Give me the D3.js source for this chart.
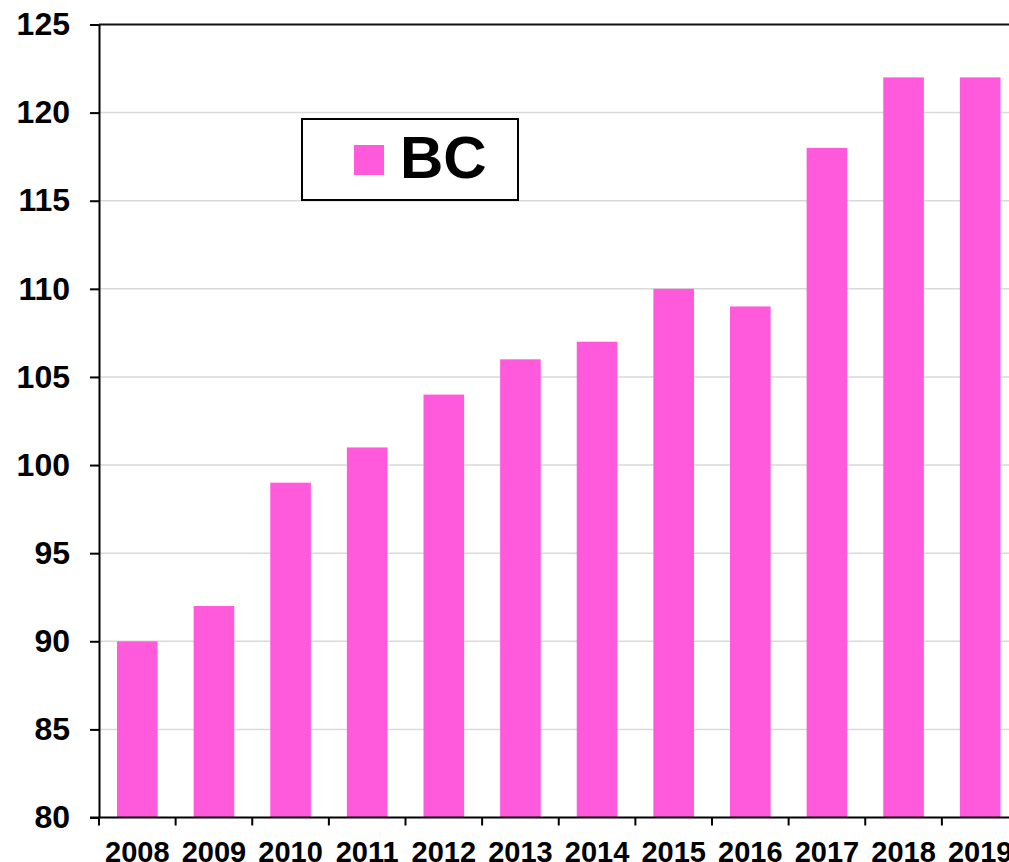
<!DOCTYPE html>
<html>
<head>
<meta charset="utf-8">
<script src="https://cdn.jsdelivr.net/npm/d3@7"></script>
<style>
  body { margin: 0; background: #fff; }
  svg { display: block; font-family: "Liberation Sans", Arial, sans-serif; font-weight: bold; }
</style>
</head>
<body>
<svg></svg>
<script>
var years = ["2008", "2009", "2010", "2011", "2012", "2013", "2014", "2015", "2016", "2017", "2018", "2019"];
var bcValues = [90, 92, 99, 101, 104, 106, 107, 110, 109, 118, 122, 122];
var yTicks = [80, 85, 90, 95, 100, 105, 110, 115, 120, 125];
var seriesName = "BC";

var width = 1009;
var height = 862;
var plotLeft = 99, plotRight = 1018.5, plotTop = 24.5, plotBottom = 817.5;
var barColor = "#ff5adb";

var svg = d3.select("svg")
            .attr("width", width)
            .attr("height", height);

var x = d3.scaleBand()
          .domain(years)
          .range([plotLeft, plotRight])
          .paddingInner(0.47)
          .paddingOuter(0.235);

var y = d3.scaleLinear()
          .domain([80, 125])
          .range([plotBottom, plotTop]);

// gridlines
svg.append("g")
    .selectAll("line")
    .data(yTicks.slice(1, -1))
    .enter()
    .append("line")
        .attr("x1", plotLeft)
        .attr("x2", plotRight)
        .attr("y1", d => y(d))
        .attr("y2", d => y(d))
        .attr("stroke", "#d9d9d9")
        .attr("stroke-width", 1.5);

// bars
svg.append("g")
    .selectAll("rect")
    .data(bcValues)
    .enter()
    .append("rect")
        .attr("x", (d, i) => x(years[i]))
        .attr("width", x.bandwidth())
        .attr("y", d => y(d))
        .attr("height", d => y(80) - y(d))
        .attr("fill", barColor);

// top border of plot area
svg.append("line")
    .attr("x1", plotLeft)
    .attr("x2", plotRight)
    .attr("y1", plotTop)
    .attr("y2", plotTop)
    .attr("stroke", "#111")
    .attr("stroke-width", 2);

// y axis
var yAxis = svg.append("g")
    .attr("transform", "translate(" + plotLeft + ",0)")
    .call(d3.axisLeft(y).tickValues(yTicks).tickSize(9).tickPadding(20).tickSizeOuter(0));
yAxis.select(".domain").attr("stroke", "#000").attr("stroke-width", 2);
yAxis.selectAll(".tick line").attr("stroke", "#000").attr("stroke-width", 2);
yAxis.selectAll("text")
    .attr("fill", "#000")
    .style("font-size", "32px")
    .style("font-weight", "bold")
    .style("font-family", "'Liberation Sans', Arial, sans-serif");

// x axis
var xTickScale = d3.scaleLinear().domain([0, years.length]).range([plotLeft, plotRight]);
var xAxis = svg.append("g")
    .attr("transform", "translate(0," + plotBottom + ")");
xAxis.append("line")
    .attr("x1", plotLeft - 9)
    .attr("x2", plotRight)
    .attr("stroke", "#000")
    .attr("stroke-width", 2);
xAxis.selectAll(".xtick")
    .data(d3.range(years.length + 1))
    .enter()
    .append("line")
        .attr("x1", d => xTickScale(d))
        .attr("x2", d => xTickScale(d))
        .attr("y1", 0)
        .attr("y2", 8)
        .attr("stroke", "#000")
        .attr("stroke-width", 2);
xAxis.selectAll(".xlabel")
    .data(years)
    .enter()
    .append("text")
        .attr("x", d => x(d) + x.bandwidth() / 2)
        .attr("y", 44)
        .attr("text-anchor", "middle")
        .style("font-size", "29px")
        .text(d => d);

// legend
var legend = svg.append("g");
legend.append("rect")
    .attr("x", 302)
    .attr("y", 119)
    .attr("width", 216)
    .attr("height", 81)
    .attr("fill", "#fff")
    .attr("stroke", "#000")
    .attr("stroke-width", 2);
legend.append("rect")
    .attr("x", 354)
    .attr("y", 145)
    .attr("width", 30)
    .attr("height", 30)
    .attr("fill", barColor);
legend.append("text")
    .attr("x", 400)
    .attr("y", 178)
    .style("font-size", "60px")
    .text(seriesName);
</script>
</body>
</html>
